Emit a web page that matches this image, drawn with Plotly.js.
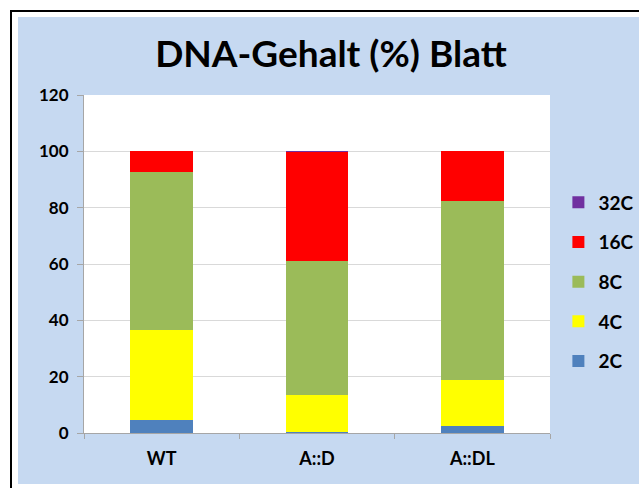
<!DOCTYPE html>
<html>
<head>
<meta charset="utf-8">
<script src="https://cdn.plot.ly/plotly-3.0.1.min.js"></script>
<style>
  html, body { margin: 0; padding: 0; background: #ffffff; }
  #wrap { position: relative; width: 639px; height: 488px; overflow: hidden; }
  #frame { position: absolute; left: 10px; top: 10px; width: 640px; height: 490px;
           border-left: 2px solid #000; border-top: 2px solid #000; background: #ffffff; }
  #bg { position: absolute; left: 18px; top: 17px; width: 630px; height: 467px; background: #C6D9F1; }
  #chart { position: absolute; left: 0; top: 0; width: 639px; height: 488px; }
</style>
</head>
<body>
<div id="wrap">
  <div id="frame"></div>
  <div id="bg"></div>
  <div id="chart"></div>
</div>
<script>
const categories = ["WT", "A::D", "A::DL"];
const seriesNames = ["2C", "4C", "8C", "16C", "32C"];
const v2C  = [4.5, 0.3, 2.4];
const v4C  = [32.2, 13.2, 16.3];
const v8C  = [55.8, 47.6, 63.5];
const v16C = [7.5, 38.7, 17.8];
const v32C = [0, 0.2, 0];
const colors = ["#4F81BD", "#FFFF00", "#9BBB59", "#FF0000", "#7030A0"];
const yTicks = [0, 20, 40, 60, 80, 100, 120];

const values = [v2C, v4C, v8C, v16C, v32C];
const font = "Lato, 'Open Sans', sans-serif";

const traces = seriesNames.map((name, i) => ({
  type: "bar",
  name: name,
  x: categories,
  y: values[i],
  marker: { color: colors[i], line: { width: 0 } },
  legendgroup: name,
  legendrank: seriesNames.length - i,
  hoverinfo: "x+y+name"
}));

const layout = {
  width: 639,
  height: 488,
  barmode: "stack",
  bargap: 0.595,
  paper_bgcolor: "rgba(0,0,0,0)",
  plot_bgcolor: "#ffffff",
  margin: { l: 84, r: 89, t: 95, b: 55, autoexpand: false },
  title: {
    text: "<b>DNA-Gehalt (%) Blatt</b>",
    font: { family: font, size: 37, color: "#000000" },
    x: 0.518, xanchor: "center",
    y: 0.89, yanchor: "middle"
  },
  font: { family: font, color: "#000000" },
  xaxis: {
    type: "category",
    tickfont: { family: font, size: 18, color: "#000000", weight: "bold" },
    ticks: "outside",
    tickson: "boundaries",
    ticklen: 5,
    tickcolor: "#A6A6A6",
    showline: true,
    linecolor: "#A6A6A6",
    linewidth: 1,
    showgrid: false,
    zeroline: false,
    ticklabelstandoff: 9
  },
  yaxis: {
    range: [0, 120],
    tickvals: yTicks,
    ticktext: yTicks.map(String),
    tickfont: { family: font, size: 17, color: "#000000", weight: "bold" },
    ticks: "outside",
    ticklen: 6,
    tickcolor: "#A6A6A6",
    showline: true,
    linecolor: "#A6A6A6",
    linewidth: 1,
    gridcolor: "#D9D9D9",
    gridwidth: 1,
    zeroline: false,
    ticklabelstandoff: 5
  },
  legend: {
    x: 1.018, xanchor: "left",
    y: 0.447, yanchor: "middle",
    traceorder: "grouped",
    tracegroupgap: 12,
    font: { family: font, size: 19, color: "#000000", weight: "bold" },
    bgcolor: "rgba(0,0,0,0)",
    itemwidth: 30
  },
  showlegend: true
};

Plotly.newPlot("chart", traces, layout, { displayModeBar: false, staticPlot: true });
</script>
</body>
</html>
